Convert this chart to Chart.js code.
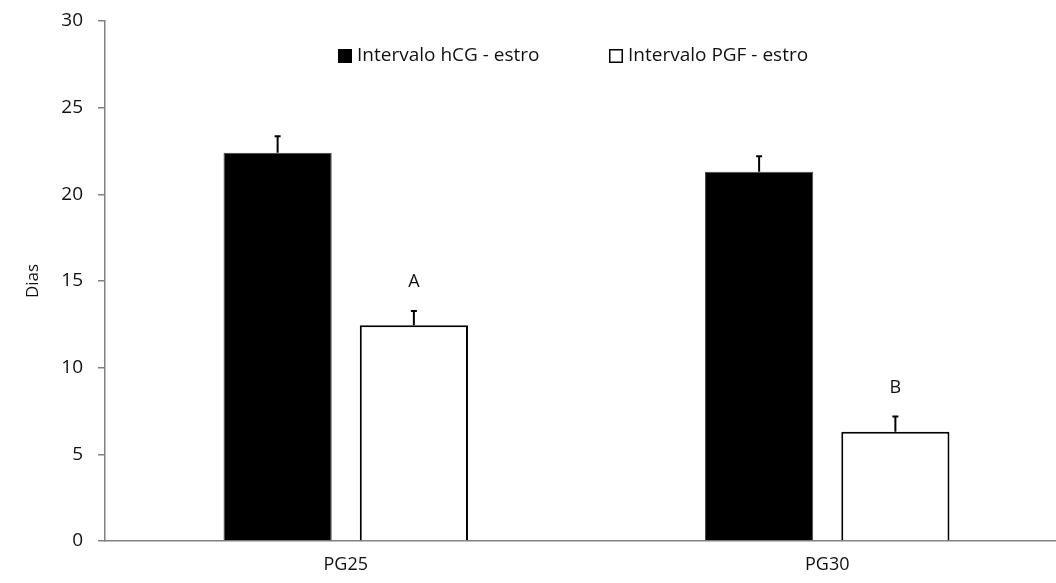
<!DOCTYPE html>
<html><head><meta charset="utf-8">
<script src="https://cdn.jsdelivr.net/npm/chart.js@4/dist/chart.umd.min.js"></script>
<style>html,body{margin:0;padding:0;overflow:hidden;background:#fff}#wrap{width:1068px;height:583px;position:relative}</style>
</head><body><div id="wrap"><canvas id="c"></canvas></div>
<script>
const categories = ['PG25', 'PG30'];
const seriesNames = ['Intervalo hCG - estro', 'Intervalo PGF - estro'];
const hcgValues = [22.4, 21.3];
const pgfValues = [12.45, 6.3];
const hcgErrors = [0.95, 0.9];
const pgfErrors = [0.82, 0.88];
const pgfLetters = ['A', 'B'];
const yTicks = [0, 5, 10, 15, 20, 25, 30];

const FONT = "'Open Sans', sans-serif";
const errorErr = [hcgErrors, pgfErrors];
const letters = [[null, null], pgfLetters];

const extras = {
  id: 'extras',
  afterDatasetsDraw(chart) {
    const ctx = chart.ctx;
    const y = chart.scales.y;
    ctx.save();
    chart.data.datasets.forEach((ds, di) => {
      const meta = chart.getDatasetMeta(di);
      meta.data.forEach((bar, i) => {
        const v = ds.data[i], e = errorErr[di][i];
        const yTop = y.getPixelForValue(v + e);
        const yBar = y.getPixelForValue(v);
        ctx.strokeStyle = '#000';
        ctx.lineWidth = 2;
        ctx.beginPath();
        ctx.moveTo(bar.x, yBar);
        ctx.lineTo(bar.x, yTop);
        ctx.moveTo(bar.x - 3, yTop);
        ctx.lineTo(bar.x + 3, yTop);
        ctx.stroke();
        const L = letters[di][i];
        if (L) {
          ctx.fillStyle = '#111';
          ctx.font = '18px ' + FONT;
          ctx.textAlign = 'center';
          ctx.textBaseline = 'middle';
          ctx.fillText(L, bar.x, yTop - 29);
        }
      });
    });
    // legend
    ctx.font = '19px ' + FONT;
    ctx.textAlign = 'left';
    ctx.textBaseline = 'middle';
    const legX = [338, 609];
    const ly = 56;
    seriesNames.forEach((n, k) => {
      ctx.lineWidth = 1.5;
      ctx.strokeStyle = '#000';
      ctx.fillStyle = k === 0 ? '#000' : '#fff';
      ctx.fillRect(legX[k], ly - 7, 14, 14);
      ctx.strokeRect(legX[k] + 0.75, ly - 6.25, 12.5, 12.5);
      ctx.fillStyle = '#111';
      ctx.fillText(n, legX[k] + 19, ly);
    });
    // y title
    ctx.save();
    ctx.translate(33, 281);
    ctx.rotate(-Math.PI / 2);
    ctx.textAlign = 'center';
    ctx.textBaseline = 'middle';
    ctx.font = '17px ' + FONT;
    ctx.fillText('Dias', 0, 0);
    ctx.restore();
    ctx.restore();
  }
};

new Chart(document.getElementById('c'), {
  type: 'bar',
  data: {
    labels: categories,
    datasets: [
      { label: seriesNames[0], data: hcgValues, backgroundColor: '#000', borderColor: '#444', borderWidth: 1,
        categoryPercentage: 0.566, barPercentage: 0.794 },
      { label: seriesNames[1], data: pgfValues, backgroundColor: '#fff', borderColor: '#000', borderWidth: 2,
        categoryPercentage: 0.566, barPercentage: 0.794 }
    ]
  },
  options: {
    responsive: true,
    maintainAspectRatio: false,
    animation: false,
    layout: { padding: { top: 21, left: 0, right: 0, bottom: 0 } },
    plugins: { legend: { display: false }, tooltip: { enabled: false } },
    scales: {
      x: {
        grid: { display: false },
        border: { display: true, color: '#808080', width: 1.5 },
        ticks: { color: '#111', font: { family: FONT, size: 18 }, padding: 5 },
        afterFit(s) { s.height = 42; s.paddingLeft = 0; s.paddingRight = 0; }
      },
      y: {
        min: 0, max: 30,
        afterBuildTicks(s) { s.ticks = yTicks.map(v => ({ value: v })); },
        grid: { drawOnChartArea: false, drawTicks: true, tickLength: 7, color: '#808080', lineWidth: 1.5 },
        border: { display: true, color: '#808080', width: 1.5 },
        ticks: { color: '#111', font: { family: FONT, size: 19 }, padding: 15 },
        afterFit(s) { s.width = 105; s.paddingTop = 0; s.paddingBottom = 0; }
      }
    }
  },
  plugins: [extras]
});
</script>
</body></html>
